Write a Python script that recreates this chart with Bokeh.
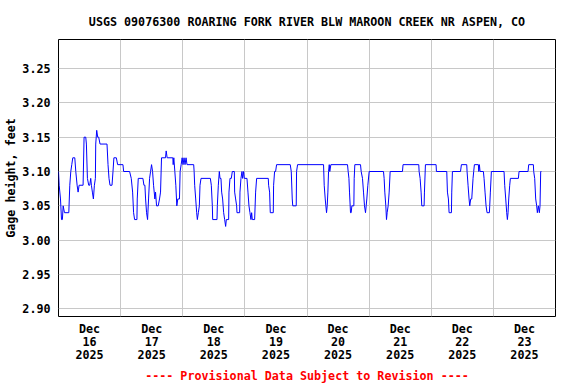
from bokeh.plotting import figure
from bokeh.models import FixedTicker, Range1d, NumeralTickFormatter, Title
from bokeh.embed import file_html
from bokeh.resources import INLINE

title_text = "USGS 09076300 ROARING FORK RIVER BLW MAROON CREEK NR ASPEN, CO"
y_label = "Gage height, feet"
note_text = "---- Provisional Data Subject to Revision ----"

# hours since Dec 16 2025 00:00
hours = [
    0.00, 0.26, 0.77, 1.16, 1.50, 1.80, 2.31, 3.98, 4.36, 4.75, 5.13, 5.52, 6.29, 6.68, 7.19, 7.57,
    7.96, 9.50, 9.88, 10.53, 10.78, 11.17, 11.68, 12.07, 12.45, 12.71, 13.09, 13.48, 13.86, 14.25,
    14.38, 14.76, 15.15, 15.53, 16.05, 18.74, 19.13, 19.51, 19.90, 20.67, 21.05, 21.40, 22.34, 22.85,
    24.90, 25.16, 27.47, 28.11, 28.63, 29.01, 29.40, 30.30, 30.42, 30.81, 32.61, 33.00, 33.38, 33.64,
    34.02, 34.41, 34.79, 35.18, 35.57, 35.95, 36.34, 36.72, 37.23, 37.49, 37.88, 38.52, 39.03, 39.42,
    39.80, 41.34, 41.60, 41.98, 44.17, 44.30, 44.55, 44.94, 45.32, 45.71, 46.09, 46.73, 46.99, 47.38,
    47.76, 48.11, 48.50, 48.88, 49.27, 49.65, 52.23, 52.40, 52.61, 53.00, 53.38, 53.64, 54.03, 54.41,
    54.67, 55.06, 58.66, 59.04, 59.43, 59.56, 61.23, 61.36, 61.74, 62.13, 62.39, 62.77, 63.03, 63.41,
    63.80, 64.19, 64.57, 64.83, 65.73, 65.86, 66.25, 66.76, 67.15, 67.92, 68.05, 68.43, 68.82, 68.95,
    69.98, 70.11, 70.49, 70.88, 71.13, 71.52, 71.78, 72.81, 73.19, 73.58, 73.96, 74.35, 74.61, 74.87,
    75.77, 76.15, 76.54, 81.04, 81.17, 81.55, 81.81, 82.97, 83.10, 83.48, 83.87, 84.25, 89.53, 89.92,
    90.30, 90.50, 91.84, 91.97, 92.36, 102.39, 102.65, 103.04, 103.29, 103.55, 103.81, 104.07, 104.32,
    104.60, 104.80, 105.22, 111.65, 111.90, 112.20, 112.42, 112.81, 113.07, 113.33, 114.10, 114.23,
    114.48, 116.67, 116.93, 117.44, 117.83, 118.21, 118.60, 118.86, 119.11, 119.50, 120.02, 125.55,
    125.80, 126.06, 126.45, 126.71, 126.96, 127.35, 127.74, 128.12, 132.88, 133.10, 139.18, 139.31,
    139.70, 140.08, 140.34, 141.24, 141.37, 141.75, 145.87, 146.00, 149.99, 150.25, 150.63, 150.89,
    151.79, 151.92, 152.18, 155.30, 155.65, 157.71, 157.84, 158.22, 158.61, 158.87, 159.25, 159.64,
    160.15, 160.40, 160.67, 162.21, 162.35, 162.60, 162.85, 164.14, 164.40, 164.78, 165.17, 165.56,
    166.46, 166.59, 166.84, 167.23, 172.12, 172.38, 172.77, 173.15, 173.41, 173.67, 173.93, 174.31,
    174.57, 177.66, 177.92, 181.39, 181.65, 183.45, 183.58, 183.96, 184.35, 184.73, 184.99, 185.38,
    185.76, 186.02, 186.28, 186.54,
]
gage_height = [
    3.10, 3.08, 3.06, 3.03, 3.03, 3.05, 3.04, 3.04, 3.08, 3.10, 3.11, 3.12, 3.12, 3.10, 3.08, 3.07,
    3.08, 3.08, 3.15, 3.15, 3.14, 3.09, 3.08, 3.08, 3.09, 3.08, 3.07, 3.06, 3.08, 3.09,
    3.14, 3.16, 3.15, 3.15, 3.14, 3.14, 3.11, 3.09, 3.08, 3.08, 3.10, 3.12, 3.12, 3.11,
    3.11, 3.10, 3.10, 3.09, 3.07, 3.04, 3.03, 3.03, 3.06, 3.09, 3.09, 3.08, 3.08, 3.06,
    3.04, 3.03, 3.06, 3.09, 3.10, 3.11, 3.10, 3.08, 3.06, 3.07, 3.05, 3.05, 3.06, 3.07,
    3.12, 3.12, 3.13, 3.12, 3.12, 3.11, 3.12, 3.10, 3.08, 3.05, 3.06, 3.06, 3.10, 3.11,
    3.12, 3.11, 3.12, 3.11, 3.12, 3.11, 3.11, 3.10, 3.08, 3.06, 3.04, 3.03, 3.04, 3.05,
    3.08, 3.09, 3.09, 3.08, 3.05, 3.03, 3.03, 3.05, 3.08, 3.10, 3.09, 3.09, 3.07, 3.06,
    3.04, 3.03, 3.02, 3.03, 3.03, 3.07, 3.09, 3.09, 3.10, 3.10, 3.07, 3.06, 3.05, 3.04,
    3.04, 3.07, 3.09, 3.10, 3.09, 3.10, 3.09, 3.09, 3.07, 3.05, 3.04, 3.03, 3.04, 3.03,
    3.03, 3.07, 3.09, 3.09, 3.08, 3.07, 3.04, 3.04, 3.08, 3.10, 3.10, 3.11, 3.11, 3.10,
    3.06, 3.05, 3.05, 3.10, 3.11, 3.11, 3.08, 3.06, 3.05, 3.04, 3.05, 3.07, 3.10,
    3.11, 3.10, 3.11, 3.11, 3.10, 3.09, 3.07, 3.04, 3.04, 3.05, 3.05, 3.09,
    3.11, 3.11, 3.10, 3.09, 3.07, 3.05, 3.04, 3.05, 3.06, 3.08, 3.10, 3.10,
    3.09, 3.07, 3.05, 3.03, 3.04, 3.05, 3.07, 3.10, 3.10, 3.11, 3.11, 3.10,
    3.09, 3.07, 3.05, 3.05, 3.07, 3.11, 3.11, 3.10, 3.10, 3.07, 3.06, 3.04,
    3.04, 3.07, 3.10, 3.10, 3.11, 3.11, 3.10, 3.08, 3.06, 3.05, 3.06, 3.06,
    3.09, 3.10, 3.11, 3.11, 3.10, 3.11, 3.10, 3.10, 3.09, 3.07, 3.05, 3.04,
    3.04, 3.05, 3.07, 3.10, 3.10, 3.08, 3.06, 3.04, 3.03, 3.04, 3.06, 3.08,
    3.09, 3.09, 3.10, 3.10, 3.11, 3.11, 3.10, 3.09, 3.06, 3.05, 3.04, 3.05,
    3.04, 3.05, 3.10, 3.10,
]

day_labels = ["Dec\n16\n2025", "Dec\n17\n2025", "Dec\n18\n2025", "Dec\n19\n2025",
              "Dec\n20\n2025", "Dec\n21\n2025", "Dec\n22\n2025", "Dec\n23\n2025"]
y_ticks = [2.90, 2.95, 3.00, 3.05, 3.10, 3.15, 3.20, 3.25]

FONT = "DejaVu Sans Mono"
FS = "11.7px"
n_days = len(day_labels)

p = figure(width=576, height=384, output_backend="svg", toolbar_location=None,
           x_range=Range1d(0, 24 * n_days), y_range=Range1d(2.8888, 3.2923),
           min_border_left=58, min_border_right=21, min_border_top=39, min_border_bottom=68,
           background_fill_color="white", border_fill_color="white",
           outline_line_color="black", outline_line_width=1)

p.title.text = title_text
p.title.align = "center"
p.title.text_font = FONT
p.title.text_font_size = FS
p.title.text_font_style = "bold"
p.title.text_color = "black"
p.title.standoff = 21

p.line(hours, gage_height, line_color="#0000FF", line_width=1)

# x axis: labels at noon, grid lines at midnight
label_pos = [24 * i + 12 for i in range(n_days)]
p.xaxis.ticker = FixedTicker(ticks=label_pos)
p.xaxis.major_label_overrides = {pos: lab for pos, lab in zip(label_pos, day_labels)}
p.xgrid.ticker = FixedTicker(ticks=[24 * i for i in range(1, n_days)])

p.yaxis.ticker = FixedTicker(ticks=y_ticks)
p.yaxis.formatter = NumeralTickFormatter(format="0.00")
p.ygrid.ticker = FixedTicker(ticks=y_ticks)
p.yaxis.axis_label = y_label

for ax in (p.xaxis[0], p.yaxis[0]):
    ax.axis_line_color = None
    ax.major_tick_line_color = None
    ax.minor_tick_line_color = None
    ax.major_tick_out = 0
    ax.major_tick_in = 0
    ax.minor_tick_out = 0
    ax.minor_tick_in = 0
    ax.major_label_text_font = FONT
    ax.major_label_text_font_size = FS
    ax.major_label_text_font_style = "bold"
    ax.major_label_text_color = "black"
    ax.axis_label_text_font = FONT
    ax.axis_label_text_font_size = FS
    ax.axis_label_text_font_style = "bold"
    ax.axis_label_text_color = "black"

p.xaxis.major_label_standoff = 5
p.xaxis.major_label_text_line_height = 0.96
p.yaxis.major_label_standoff = 8
p.yaxis.axis_label_standoff = 1

for g in (p.xgrid[0], p.ygrid[0]):
    g.grid_line_color = "#C8C8C8"
    g.grid_line_width = 1

p.add_layout(Title(text=note_text, align="center", text_font=FONT, text_font_size=FS,
                   text_font_style="bold", text_color="#FF0000", standoff=2), "below")

open("out.html", "w").write(file_html(p, INLINE))
